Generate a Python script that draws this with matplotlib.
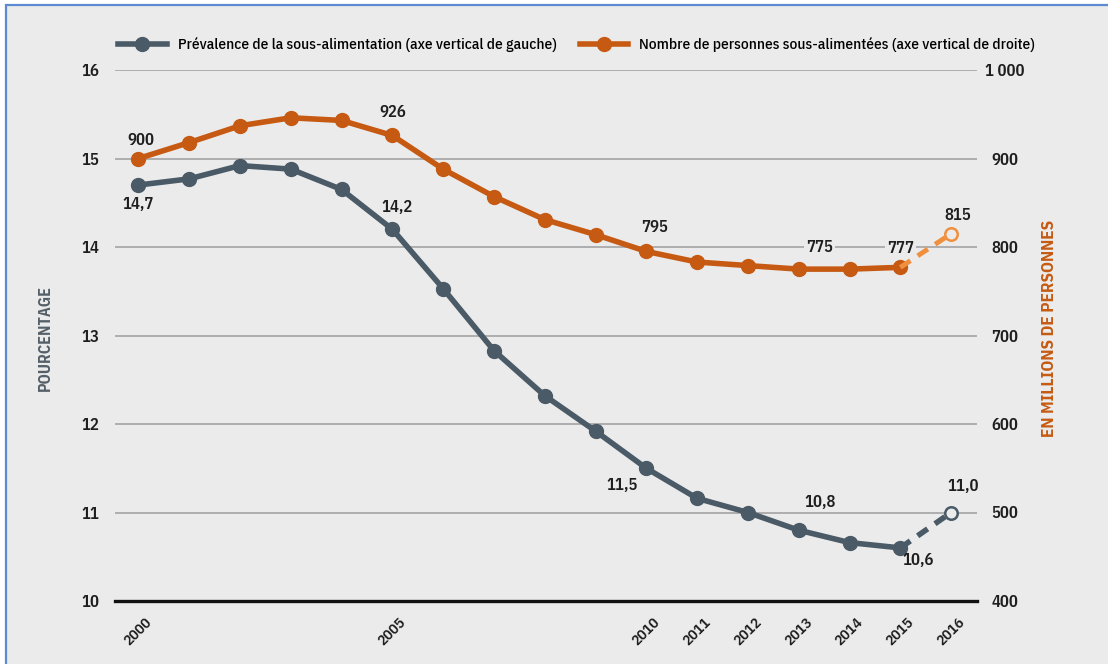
import numpy as np
import matplotlib
matplotlib.use("Agg")
import matplotlib.pyplot as plt
from matplotlib.patches import Rectangle
from matplotlib.lines import Line2D

plt.rcParams['font.family'] = ['IBM Plex Sans Condensed', 'DejaVu Sans']

# data
years = [2000, 2001, 2002, 2003, 2004, 2005, 2006, 2007, 2008,
         2009, 2010, 2011, 2012, 2013, 2014, 2015, 2016]
prevalence = [14.7, 14.77, 14.92, 14.88, 14.65, 14.2, 13.53, 12.83, 12.32,
              11.92, 11.5, 11.16, 11.0, 10.8, 10.66, 10.6, 11.0]
undernourished = [900, 918, 937, 946, 943, 926, 888, 857, 831,
                  814, 795, 783, 779, 775, 775, 777, 815]
xtick_years = [2000, 2005, 2010, 2011, 2012, 2013, 2014, 2015, 2016]
left_ticks = [10, 11, 12, 13, 14, 15, 16]
right_ticks = [400, 500, 600, 700, 800, 900, 1000]
right_ticklabels = ['400', '500', '600', '700', '800', '900', '1 000']

# annotated values: (index, text, dx px, dy px)
prev_labels = [(0, '14,7', 0, -19), (5, '14,2', 5, 22), (10, '11,5', -24, -17),
               (13, '10,8', 21, 28), (15, '10,6', 18, -13), (16, '11,0', 12, 26)]
num_labels = [(0, '900', 3, 18), (5, '926', 0, 23), (10, '795', 8, 24),
              (13, '775', 21, 22), (15, '777', 0, 19), (16, '815', 7, 18)]

bg = '#ebebeb'
grey = '#4a5a66'
orange = '#c65a12'
orange_light = '#f0903e'
txt = '#1e1e1e'

fig = plt.figure(figsize=(11.08, 6.64), dpi=100, facecolor='white')
fig.patches.append(Rectangle((6/1108, -0.1), 1.2, 1 - 5/664 + 0.1,
                             transform=fig.transFigure, facecolor=bg,
                             edgecolor='#5b8bd0', lw=1.6, zorder=-1))

ax = fig.add_axes([115/1108, 1 - 601/664, (977-115)/1108, 531/664])
ax.set_facecolor('none')
ax2 = ax.twinx()

ax.set_xlim(1999.54, 2016.51)
ax.set_ylim(10, 16)
ax2.set_ylim(400, 1000)

for a in (ax, ax2):
    for s in a.spines.values():
        s.set_visible(False)
ax.spines['bottom'].set_visible(True)
ax.spines['bottom'].set_linewidth(2.4)
ax.spines['bottom'].set_color('#111111')
ax.spines['bottom'].set_zorder(5)

ax.set_yticks(left_ticks)
ax.yaxis.grid(True, color='#a3a3a3', lw=1.2)
ax.set_axisbelow(True)
ax.tick_params(axis='y', length=0, pad=11, labelsize=12, labelcolor=txt)
for lab in ax.get_yticklabels():
    lab.set_fontweight('semibold')

ax2.set_yticks(right_ticks)
ax2.set_yticklabels(right_ticklabels, fontweight='semibold')
ax2.tick_params(axis='y', length=0, pad=20, labelsize=12, labelcolor=txt)
for lab in ax2.get_yticklabels():
    lab.set_horizontalalignment('center')

ax.set_xticks(xtick_years)
ax.set_xticklabels([str(y) for y in xtick_years], rotation=45,
                   ha='center', va='center', rotation_mode='anchor')
ax.tick_params(axis='x', length=0, pad=22, labelsize=11, labelcolor=txt)
for lab in ax.get_xticklabels():
    lab.set_fontweight('semibold')

# lines
yrs = np.array(years)
ax.plot(yrs[:-1], prevalence[:-1], color=grey, lw=4, marker='o', ms=10, zorder=3)
ax.plot(yrs[-2:], prevalence[-2:], color=grey, lw=4, ls=(0, (2.2, 1.6)), zorder=3)
ax.plot(yrs[-1:], prevalence[-1:], ls='none', marker='o', ms=9, mfc=bg,
        mec=grey, mew=1.8, zorder=4)

ax2.plot(yrs[:-1], undernourished[:-1], color=orange, lw=4, marker='o', ms=10, zorder=3)
ax2.plot(yrs[-2:], undernourished[-2:], color=orange_light, lw=3.5, ls=(0, (2.5, 1.8)), zorder=3)
ax2.plot(yrs[-1:], undernourished[-1:], ls='none', marker='o', ms=9, mfc=bg,
         mec=orange_light, mew=1.8, zorder=4)

for i, t, dx, dy in prev_labels:
    ax.annotate(t, (years[i], prevalence[i]), xytext=(dx, dy), textcoords='offset pixels',
                ha='center', va='center', fontsize=12, color=txt, fontweight='semibold')
for i, t, dx, dy in num_labels:
    box = dict(facecolor=bg, edgecolor='none', pad=1.5) if t in ('775', '777') else None
    ax2.annotate(t, (years[i], undernourished[i]), xytext=(dx, dy), textcoords='offset pixels',
                 ha='center', va='center', fontsize=12, color=txt, fontweight='semibold', bbox=box)

fig.text(45/1108, 1 - 338/664, 'POURCENTAGE', rotation=90, ha='center', va='center',
         fontsize=11.5, fontweight='bold', color='#555f68')
fig.text(1050/1108, 1 - 328/664, 'EN MILLIONS DE PERSONNES', rotation=90, ha='center',
         va='center', fontsize=12.3, fontweight='bold', color=orange)

handles = [Line2D([], [], color=grey, lw=4, marker='o', ms=10),
           Line2D([], [], color=orange, lw=4, marker='o', ms=10)]
fig.legend(handles, ['Prévalence de la sous-alimentation (axe vertical de gauche)',
                     'Nombre de personnes sous-alimentées (axe vertical de droite)'],
           loc='center left', bbox_to_anchor=(118/1108, 1 - 45/664), ncol=2,
           frameon=False, handlelength=3.2, handletextpad=0.7,
           columnspacing=1.5, borderpad=0, borderaxespad=0,
           prop={'family': ['IBM Plex Sans Condensed', 'DejaVu Sans'], 'weight': 'medium', 'size': 11})

fig.savefig('out.png', dpi=100, facecolor=fig.get_facecolor())
